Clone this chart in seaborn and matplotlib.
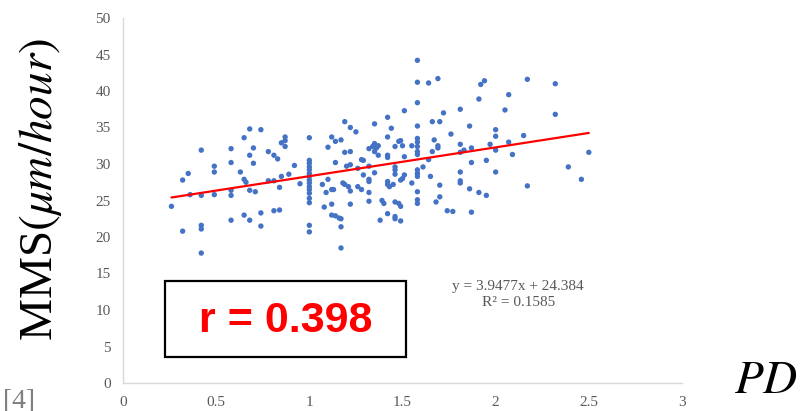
import matplotlib
matplotlib.use("Agg")
import matplotlib.pyplot as plt
import seaborn as sns
import pandas as pd
from matplotlib.patches import Rectangle

# ---- data ----
pd_values = [
    0.26, 0.32, 0.32, 0.35, 0.36, 0.42, 0.42, 0.42, 0.42, 0.42,
    0.49, 0.49, 0.49, 0.58, 0.58, 0.58, 0.58, 0.58, 0.63, 0.65,
    0.65, 0.66, 0.65, 0.68, 0.68, 0.68, 0.68, 0.70, 0.70, 0.71,
    0.74, 0.74, 0.74, 0.78, 0.81, 0.83, 0.78, 0.81, 0.84, 0.81,
    0.84, 0.85, 0.87, 0.87, 0.87, 0.85, 0.89, 0.92, 0.95,
    1.00, 1.00, 1.00, 1.00, 1.00, 1.00, 1.00, 1.00, 1.00, 1.00,
    1.00, 1.00, 1.00, 1.00, 1.00, 1.00,
    1.10, 1.12, 1.14, 1.17, 1.19, 1.22, 1.25, 1.19, 1.22, 1.32,
    1.34, 1.35, 1.36, 1.37, 1.35, 1.42, 1.42, 1.44, 1.46, 1.48,
    1.35, 1.37,
    1.07, 1.10, 1.09, 1.14, 1.12, 1.13, 1.18, 1.19, 1.21, 1.22,
    1.22, 1.12, 1.08, 1.12, 1.14, 1.16, 1.17, 1.17, 1.17, 1.20,
    1.22, 1.26, 1.26, 1.28, 1.29, 1.28, 1.29, 1.32, 1.32, 1.32,
    1.32, 1.32, 1.35, 1.39, 1.40, 1.38, 1.42, 1.42, 1.43, 1.45,
    1.42, 1.46, 1.46, 1.46, 1.46, 1.46, 1.46, 1.48, 1.49, 1.49,
    1.42, 1.42, 1.51, 1.51, 1.50, 1.49, 1.55, 1.58, 1.58, 1.58,
    1.58, 1.58, 1.61, 1.65, 1.64, 1.66, 1.58, 1.58, 1.58, 1.68,
    1.70, 1.70, 1.74, 1.77,
    1.58, 1.58, 1.64, 1.69, 1.58, 1.51, 1.58, 1.66, 1.70, 1.72,
    1.76, 1.58, 1.58, 1.58, 1.55, 1.67, 1.69, 1.69, 1.49, 1.50,
    1.92, 1.94, 2.17, 2.32, 1.91, 2.07, 1.81, 2.05, 2.32, 1.86,
    2.00, 2.00, 2.15, 1.81, 1.87, 1.97, 2.07, 2.00, 2.09, 2.50,
    1.83, 1.81,
    1.87, 1.95, 1.81, 2.00, 1.81, 1.81, 1.86, 1.91, 1.95, 2.17,
    2.39, 2.46, 1.87,
]
mms_values = [
    24.2, 27.8, 20.8, 28.7, 25.8, 31.9, 25.7, 21.6, 21.1, 17.8,
    29.7, 28.9, 25.8, 32.1, 30.2, 26.4, 25.7, 22.3, 28.9, 33.6,
    27.9, 27.5, 23.0, 34.8, 31.2, 26.4, 22.3, 32.2, 30.1, 26.2,
    34.7, 23.3, 21.5, 31.7, 31.2, 30.7, 27.7, 27.7, 26.8, 23.6,
    23.7, 32.9, 33.7, 33.2, 32.4, 28.3, 28.6, 29.8, 27.3,
    33.6, 30.5, 30.1, 29.6, 29.2, 28.7, 28.3, 27.8, 27.4, 26.9,
    26.5, 26.0, 25.3, 24.7, 21.6, 20.7,
    32.3, 33.7, 33.1, 33.3, 35.8, 35.0, 34.4, 31.6, 31.7, 32.1,
    32.4, 32.8, 32.2, 32.5, 35.5, 36.4, 33.7, 34.9, 32.4, 33.1,
    31.7, 31.2,
    27.2, 27.9, 26.1, 30.2, 26.5, 26.5, 27.4, 27.2, 26.9, 26.3,
    24.5, 24.5, 24.1, 23.0, 22.9, 22.6, 22.5, 21.4, 18.5, 29.7,
    29.9, 29.4, 26.9, 26.5, 28.5, 30.6, 30.5, 29.7, 27.9, 27.6,
    26.1, 24.9, 28.8, 25.0, 24.6, 22.3, 27.6, 27.2, 26.9, 27.2,
    23.2, 29.6, 29.2, 28.6, 22.8, 22.5, 24.8, 24.6, 24.2, 22.2,
    31.2, 30.9, 31.0, 28.5, 28.0, 27.8, 27.4, 31.7, 31.3, 29.2,
    28.7, 28.3, 29.6, 28.3, 30.6, 31.7, 26.2, 25.1, 24.6, 24.8,
    27.1, 25.5, 23.6, 23.5,
    44.2, 41.2, 41.1, 41.7, 38.4, 37.3, 35.2, 35.8, 35.8, 37.0,
    34.1, 33.5, 33.0, 32.4, 32.5, 33.3, 32.5, 32.2, 33.2, 32.5,
    40.9, 41.4, 41.6, 41.0, 38.9, 39.5, 37.5, 37.4, 36.8, 35.2,
    34.7, 33.8, 33.9, 32.7, 32.2, 32.7, 33.0, 31.9, 31.3, 31.6,
    31.9, 31.6,
    30.2, 30.5, 28.9, 28.9, 27.7, 27.4, 26.6, 26.1, 25.7, 27.0,
    29.6, 27.9, 23.4,
]
slope = 3.9477
intercept = 24.384
r_squared = 0.1585
r_value = 0.398
x_ticks = [0, 0.5, 1, 1.5, 2, 2.5, 3]
x_tick_labels = ["0", "0.5", "1", "1.5", "2", "2.5", "3"]
y_ticks = [0, 5, 10, 15, 20, 25, 30, 35, 40, 45, 50]
y_tick_labels = ["0", "5", "10", "15", "20", "25", "30", "35", "40", "45", "50"]
y_label = r"MMS$(\mu m/hour)$"
x_label = r"$PD$"
ref_text = "[4]"

# ---- style ----
sns.set_theme(style="white")
plt.rcParams['font.family'] = ['Liberation Serif', 'DejaVu Serif']
plt.rcParams['mathtext.fontset'] = 'stix'

fig = plt.figure(figsize=(8, 4.11), dpi=100)
ax = fig.add_axes([123 / 800, 1 - 383 / 411, (682 - 123) / 800, (383 - 18) / 411])

df = pd.DataFrame({"PD": pd_values, "MMS": mms_values})
sns.scatterplot(data=df, x="PD", y="MMS", ax=ax, s=15, color="#4472C4",
                edgecolor="none", linewidth=0, zorder=3)

xs = [min(pd_values), max(pd_values)]
line_df = pd.DataFrame({"PD": xs, "MMS": [slope * x + intercept for x in xs]})
sns.lineplot(data=line_df, x="PD", y="MMS", ax=ax, color="#FF0000",
             linewidth=1.6, zorder=4)

ax.set_xlim(0, 3)
ax.set_ylim(0, 50)
ax.set_xticks(x_ticks)
ax.set_xticklabels(x_tick_labels)
ax.set_yticks(y_ticks)
ax.set_yticklabels(y_tick_labels)
ax.set_xlabel("")
ax.set_ylabel("")
ax.tick_params(axis="both", length=0, labelsize=11, labelcolor="#595959")
ax.tick_params(axis="y", pad=9)
ax.tick_params(axis="x", pad=9)
for side in ["top", "right"]:
    ax.spines[side].set_visible(False)
for side in ["left", "bottom"]:
    ax.spines[side].set_color("#D9D9D9")
    ax.spines[side].set_linewidth(1.0)
ax.grid(False)

# y axis title (large, left)
fig.text(41 / 800, 1 - 190 / 411, y_label, rotation=90, fontsize=34,
         ha="center", va="center", color="black")
# x axis title (large, bottom right)
fig.text(766 / 800, 1 - 382 / 411, x_label, fontsize=34,
         ha="center", va="center", color="black")
# partial reference marker at bottom left
fig.text(3 / 800, 1 - 389 / 411, ref_text, fontsize=20, ha="left", va="top",
         color="#7F7F7F")

# equation text
fig.text(518 / 800, 1 - 286 / 411, f"y = {slope}x + {intercept}", fontsize=11,
         ha="center", va="center", color="#595959")
fig.text(519 / 800, 1 - 302 / 411, f"R\u00b2 = {r_squared}", fontsize=11,
         ha="center", va="center", color="#595959")

# boxed correlation coefficient
box = Rectangle((165 / 800, 1 - 357 / 411), (406 - 165) / 800, (357 - 281) / 411,
                transform=fig.transFigure, facecolor="white", edgecolor="black",
                linewidth=1.6, zorder=5)
fig.patches.append(box)
fig.text(286 / 800, 1 - 321 / 411, f"r = {r_value}", fontsize=31,
         fontweight="bold", family=["Liberation Sans", "DejaVu Sans"],
         color="#FF0000", ha="center", va="center", zorder=6)

fig.savefig("out.png", dpi=100)
